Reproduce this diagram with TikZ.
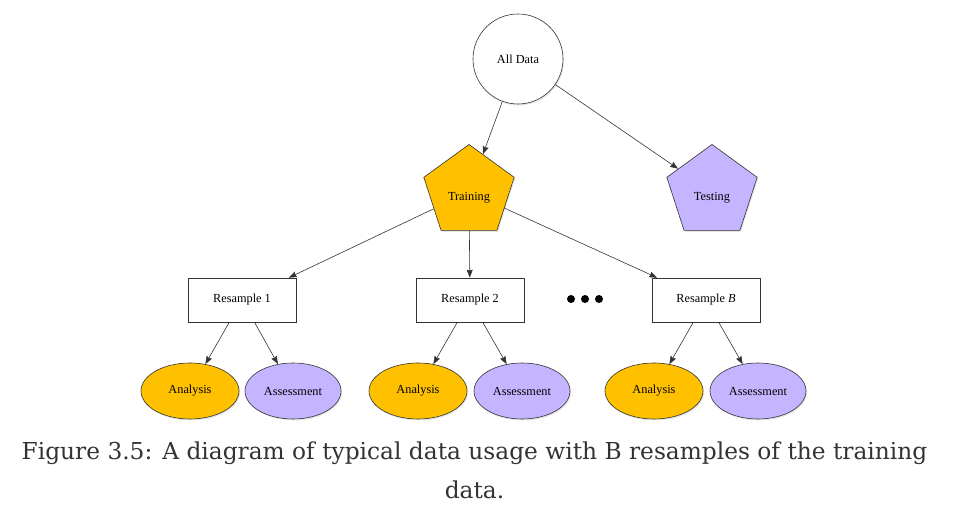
\documentclass[tikz,border=0pt]{standalone}
\usepackage{fontspec}
\setmainfont{Liberation Serif}
\newfontfamily\capfont{DejaVu Serif}
\usepackage{xcolor}
\usepackage{tikz}
\usetikzlibrary{shapes.geometric,arrows.meta,shadows}
\definecolor{trainyellow}{RGB}{255,192,0}
\definecolor{testpurple}{RGB}{197,180,255}
\definecolor{linegray}{RGB}{51,51,51}
\definecolor{captiongray}{RGB}{51,51,51}

\begin{document}
\begin{tikzpicture}[x=1pt, y=1pt, node distance=91pt]
    \tikzstyle{base} = [draw=linegray, line width=0.6pt, font=\fontsize{12.3}{14}\selectfont, inner sep=0pt, drop shadow={shadow xshift=1pt, shadow yshift=-1.5pt, opacity=0.2}]
    \tikzstyle{datacircle} = [base, circle, minimum size=90pt, fill=white]
    \tikzstyle{split} = [base, regular polygon, regular polygon sides=5, minimum size=95pt, text height=18pt, text depth=0pt]
    \tikzstyle{resample} = [base, rectangle, minimum width=108pt, minimum height=44pt, fill=white]
    \tikzstyle{analysis} = [base, ellipse, minimum width=98pt, minimum height=56pt, fill=trainyellow]
    \tikzstyle{assessment} = [base, ellipse, minimum width=96pt, minimum height=56pt, fill=testpurple]
    \tikzstyle{arrow} = [-{Stealth[length=8pt, width=6pt, inset=1pt]}, draw=linegray, line width=0.6pt]
    \useasboundingbox (0,0) rectangle (954,512);

    % Top split
    \node [datacircle] (alldata) at (518,453) {All Data};
    \node [split, fill=trainyellow] (train) at (469,320) {Training};
    \node [split, fill=testpurple] (test) at (712,320) {Testing};

    % Resamples
    \node [resample] (res1) at (242,212) {Resample 1};
    \node [resample] (res2) at (470,212) {Resample 2};
    \node [resample] (resB) at (706,212) {Resample \textit{B}};
    \node [inner sep=0pt, minimum size=8pt] (dots) at (585,213) {};
    \fill [black] (dots.center) circle (4pt) ++(-14,0) circle (4pt) ++(28,0) circle (4pt);

    % Analysis / assessment sets
    \node [analysis, below of=res1, xshift=-52pt] (ana1) {Analysis};
    \node [assessment, below of=res1, xshift=51pt] (ass1) {Assessment};
    \node [analysis, below of=res2, xshift=-52pt] (ana2) {Analysis};
    \node [assessment, below of=res2, xshift=52pt] (ass2) {Assessment};
    \node [analysis, below of=resB, xshift=-52pt] (anaB) {Analysis};
    \node [assessment, below of=resB, xshift=52pt] (assB) {Assessment};

    % Arrows
    \draw [arrow] (alldata) -- (train);
    \draw [arrow] (alldata) -- (test);
    \draw [arrow] (train) -- (res1);
    \draw [arrow] (train) -- (res2);
    \draw [arrow] (train) -- (resB);
    \draw [arrow] (res1) -- (ana1);
    \draw [arrow] (res1) -- (ass1);
    \draw [arrow] (res2) -- (ana2);
    \draw [arrow] (res2) -- (ass2);
    \draw [arrow] (resB) -- (anaB);
    \draw [arrow] (resB) -- (assB);

    % Caption
    \node [anchor=base, align=center, text=captiongray, font=\capfont\fontsize{23.3}{39}\selectfont] (caption) at (474.5,14) {Figure 3.5: A diagram of typical data usage with B resamples of the training\\data.};
\end{tikzpicture}
\end{document}
